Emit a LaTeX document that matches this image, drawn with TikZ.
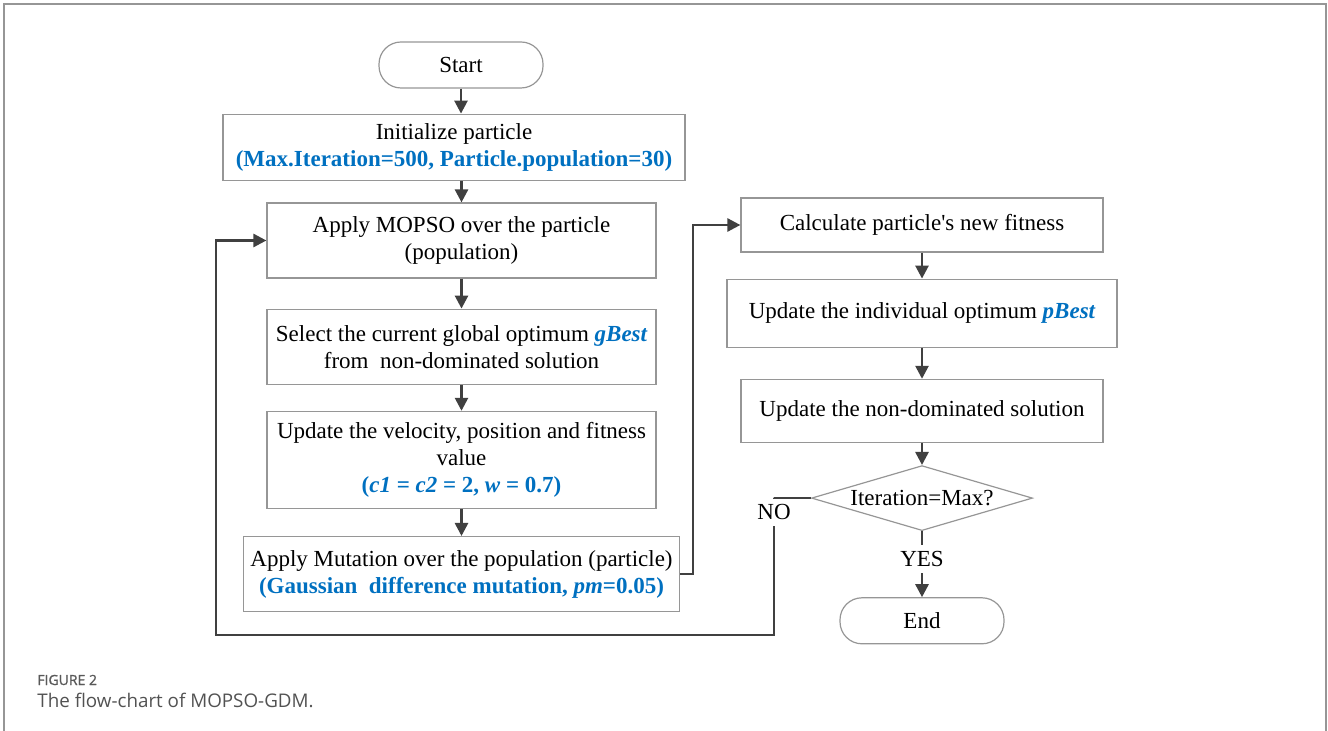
\documentclass[tikz,border=0pt]{standalone}
\usepackage{fontspec}
\setmainfont{Liberation Serif}
\newfontfamily\capfont{Open Sans}
\newfontfamily\capheadfont[FakeBold=1.2]{Open Sans}
\usepackage{xcolor}
\usetikzlibrary{positioning,shapes.geometric,arrows.meta}
\definecolor{parblue}{RGB}{0,112,192}
\definecolor{edgegray}{RGB}{150,150,150}
\definecolor{arrowgray}{RGB}{64,64,64}

\begin{document}
\begin{tikzpicture}[x=0.5pt, y=-0.5pt, font=\fontsize{11.5}{13.5}\selectfont,
  box/.style={draw=edgegray, line width=0.6pt, align=center, inner sep=2pt},
  term/.style={box, rounded corners=11pt, minimum width=82pt, minimum height=23pt},
  flow/.style={draw=arrowgray, line width=1.3pt, -{Triangle[length=6.5pt,width=6.5pt]}},
  wire/.style={draw=arrowgray, line width=1.3pt},
  lbl/.style={inner sep=3pt}]
\useasboundingbox (0,0) rectangle (1328,731);
\draw[edgegray, line width=0.6pt] (4,731) -- (4,4) -- (1326,4) -- (1326,731);

% left column
\node[term] (start) at (461,65) {Start};
\node[box, below=12.5pt of start, xshift=-3.5pt, minimum width=231pt, minimum height=33pt] (init)
  {Initialize particle\\ \textcolor{parblue}{\bfseries (Max.Iteration=500, Particle.population=30)}};
\node[box, minimum width=194.5pt, minimum height=37.5pt] (mopso) at (461.5,240.5)
  {Apply MOPSO over the particle\\ (population)};
\node[box, below=15pt of mopso, minimum width=194.5pt, minimum height=37.5pt] (gbest)
  {Select the current global optimum \textcolor{parblue}{\bfseries\itshape gBest}\\ from\ \ non-dominated solution};
\node[box, below=13pt of gbest, minimum width=194.5pt, minimum height=48.5pt] (update)
  {Update the velocity, position and fitness\\ value\\
   \textcolor{parblue}{\bfseries (\textit{c1} = \textit{c2} = 2, \textit{w} = 0.7)}};
\node[box, below=13.5pt of update, minimum width=218pt, minimum height=37.5pt] (mut)
  {Apply Mutation over the population (particle)\\
   \textcolor{parblue}{\bfseries (Gaussian\ \ difference mutation, \textit{pm}=0.05)}};

% right column
\node[box, minimum width=181pt, minimum height=27pt] (calc) at (922,225)
  {Calculate particle\textquotesingle s new fitness};
\node[box, below=13pt of calc, minimum width=195pt, minimum height=34pt] (pbest)
  {Update the individual optimum \textcolor{parblue}{\bfseries\itshape pBest}};
\node[box, below=15.5pt of pbest, minimum width=181pt, minimum height=31.5pt] (nondom)
  {Update the non-dominated solution};
\node[box, diamond, aspect=3.4, inner sep=0pt, minimum width=110.5pt, minimum height=32.5pt,
  below=11pt of nondom] (check) {Iteration=Max?};
\node[term, below=33pt of check] (stop) {End};
\node[lbl] (yes) at (922,559) {YES};
\node[lbl] (no) at (774,512) {NO};
\coordinate (back) at (216,635);

% connectors
\draw[flow] (start.south) -- (start.south |- init.north);
\draw[flow] (mopso.north |- init.south) -- (mopso.north);
\draw[flow] (mopso) -- (gbest);
\draw[flow] (gbest) -- (update);
\draw[flow] (update) -- (mut);
\draw[flow] (mut.east) -- ++(6.5pt,0) |- (calc.west);
\draw[flow] (calc) -- (pbest);
\draw[flow] (pbest) -- (nondom);
\draw[flow] (nondom) -- (check);
\draw[wire] (check.south) -- (yes.north);
\draw[flow] (yes.south) -- (stop.north);
\draw[wire] (check.west) -| (no.north);
\draw[flow] (no.south) |- (back) |- (mopso.west);

% caption
\node[anchor=base west, inner sep=0pt, text=black!65, font=\capheadfont\fontsize{7}{8}\selectfont] (fig) at (37,685) {FIGURE 2};
\node[anchor=base west, inner sep=0pt, text=black!68, font=\capfont\fontsize{9.4}{11}\selectfont] (cap) at (37,707) {The flow-chart of MOPSO-GDM.};
\end{tikzpicture}
\end{document}
